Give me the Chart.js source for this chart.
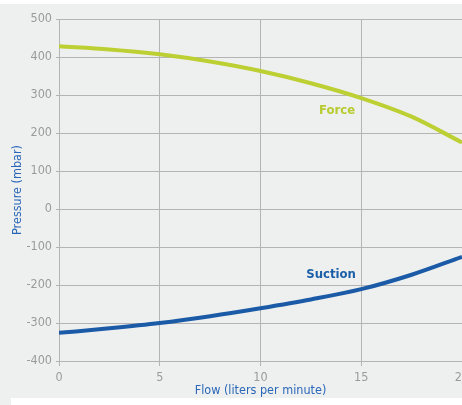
<!DOCTYPE html>
<html><head><meta charset="utf-8">
<script src="https://cdn.jsdelivr.net/npm/chart.js@4/dist/chart.umd.min.js"></script>
<style>html,body{margin:0;padding:0;overflow:hidden;background:#fff}#wrap{width:480px;height:405px}</style>
</head><body><div id="wrap"><canvas id="c" width="480" height="405"></canvas></div>
<script>
const flow = [0, 2.5, 5, 7.5, 10, 12.5, 15, 17.5, 20];
const force = [428, 420, 407, 388, 363, 331, 292, 243, 175];
const suction = [-326, -314, -300, -282, -261, -238, -211, -173, -126];
const xTicks = [0, 5, 10, 15, 20];
const yTicks = [-400, -300, -200, -100, 0, 100, 200, 300, 400, 500];
const seriesLabels = [
  {text: 'Force', x: 13.8, y: 260, color: '#b8cb2e'},
  {text: 'Suction', x: 13.5, y: -174, color: '#1b5ea8'}
];
const FONT = "'DejaVu Sans Condensed', 'Roboto', sans-serif";

const bgPlugin = {
  id: 'bg',
  beforeDraw(chart) {
    const ctx = chart.ctx;
    ctx.save();
    ctx.fillStyle = '#fff';
    ctx.fillRect(0, 0, chart.width, chart.height);
    ctx.fillStyle = '#eef0ef';
    ctx.fillRect(0, 4, chart.width, 394);
    ctx.fillRect(0, 398, 11, chart.height - 398);
    ctx.restore();
  }
};
const labelPlugin = {
  id: 'lbl',
  afterDatasetsDraw(chart) {
    const ctx = chart.ctx, xs = chart.scales.x, ys = chart.scales.y;
    ctx.save();
    ctx.font = "bold 13px " + FONT;
    ctx.textAlign = 'center';
    ctx.textBaseline = 'middle';
    seriesLabels.forEach(l => {
      ctx.fillStyle = l.color;
      ctx.fillText(l.text, xs.getPixelForValue(l.x), ys.getPixelForValue(l.y));
    });
    ctx.restore();
  }
};

new Chart(document.getElementById('c'), {
  type: 'line',
  data: {
    datasets: [
      {data: flow.map((x, i) => ({x, y: force[i]})), borderColor: '#bccf33', borderWidth: 4, pointRadius: 0, cubicInterpolationMode: 'monotone', fill: false},
      {data: flow.map((x, i) => ({x, y: suction[i]})), borderColor: '#1a5aa6', borderWidth: 4, pointRadius: 0, cubicInterpolationMode: 'monotone', fill: false}
    ]
  },
  options: {
    responsive: false,
    animation: false,
    layout: {padding: {top: 19, left: 10, right: 18, bottom: 7}},
    plugins: {legend: {display: false}, tooltip: {enabled: false}},
    scales: {
      x: {
        type: 'linear', min: 0, max: 20,
        afterBuildTicks(s) { s.ticks = xTicks.map(v => ({value: v})); },
        afterFit(s) { s.height = 37; },
        grid: {color: '#b4b4b4', lineWidth: 1, tickLength: 5, drawTicks: true},
        border: {color: '#b4b4b4', width: 1},
        ticks: {color: '#9a9a9a', font: {family: FONT, size: 12.5}, padding: 4, maxRotation: 0},
        title: {display: true, text: 'Flow (liters per minute)', color: '#2a67b8', font: {family: FONT, size: 12.5}, padding: {top: 0, bottom: 0}}
      },
      y: {
        type: 'linear', min: -400, max: 500,
        afterBuildTicks(s) { s.ticks = yTicks.map(v => ({value: v})); },
        afterFit(s) { s.width = 49; },
        grid: {color: '#b4b4b4', lineWidth: 1, tickLength: 3},
        border: {color: '#b4b4b4', width: 1},
        ticks: {color: '#9a9a9a', font: {family: FONT, size: 12.5}, padding: 4},
        title: {display: true, text: 'Pressure (mbar)', color: '#2a67b8', font: {family: FONT, size: 12.5}, padding: {top: 0, bottom: 4}}
      }
    }
  },
  plugins: [bgPlugin, labelPlugin]
});
</script></body></html>
